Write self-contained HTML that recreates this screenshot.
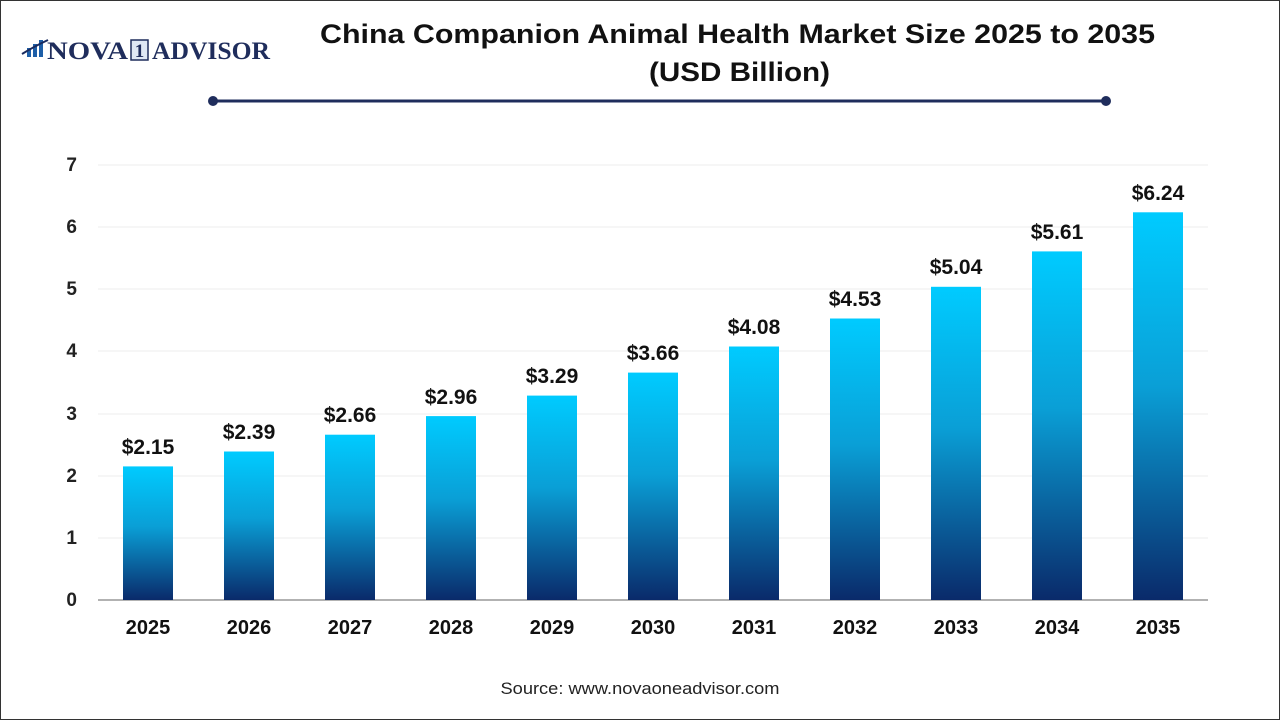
<!DOCTYPE html>
<html><head><meta charset="utf-8"><style>
body{margin:0;width:1280px;height:720px;background:#fff;overflow:hidden;font-family:"Liberation Sans",sans-serif;}
</style></head><body>
<svg width="1280" height="720" xmlns="http://www.w3.org/2000/svg" font-family="Liberation Sans, sans-serif">
<defs><linearGradient id="g" x1="0" y1="0" x2="0" y2="1"><stop offset="0" stop-color="#00cbff"/><stop offset="0.45" stop-color="#0a9fd6"/><stop offset="1" stop-color="#0a2a6a"/></linearGradient></defs>
<rect x="0.5" y="0.5" width="1279" height="719" fill="#fff" stroke="#333"/>
<g fill="#1e5fa8"><rect x="27" y="48" width="4" height="9"/><rect x="33" y="44" width="4" height="13"/><rect x="39" y="40" width="4" height="17"/></g>
<path d="M22 54 Q35 46 48 40" stroke="#1a2a5e" stroke-width="2" fill="none"/>
<text x="47" y="59" font-family="Liberation Serif, serif" font-weight="bold" font-size="25" fill="#1f2d5c" textLength="81" lengthAdjust="spacingAndGlyphs">NOVA</text>
<rect x="131" y="40" width="17" height="20" fill="#dfe8f4" stroke="#1f2d5c" stroke-width="1.5"/>
<text x="139.5" y="57" text-anchor="middle" font-family="Liberation Serif, serif" font-weight="bold" font-size="19" fill="#1f2d5c">1</text>
<text x="152" y="59" font-family="Liberation Serif, serif" font-weight="bold" font-size="25" fill="#1f2d5c" textLength="118" lengthAdjust="spacingAndGlyphs">ADVISOR</text>
<text x="320" y="43" font-weight="bold" font-size="27" fill="#111" textLength="835" lengthAdjust="spacingAndGlyphs">China Companion Animal Health Market Size 2025 to 2035</text>
<text x="649" y="81" font-weight="bold" font-size="27" fill="#111" textLength="181" lengthAdjust="spacingAndGlyphs">(USD Billion)</text>
<line x1="213" y1="101" x2="1106" y2="101" stroke="#1f2d5c" stroke-width="3"/>
<circle cx="213" cy="101" r="5" fill="#1f2d5c"/><circle cx="1106" cy="101" r="5" fill="#1f2d5c"/>
<g stroke="#ececec" stroke-width="1">
<line x1="98" y1="165" x2="1208" y2="165"/><line x1="98" y1="227" x2="1208" y2="227"/><line x1="98" y1="289" x2="1208" y2="289"/><line x1="98" y1="351" x2="1208" y2="351"/><line x1="98" y1="414" x2="1208" y2="414"/><line x1="98" y1="476" x2="1208" y2="476"/><line x1="98" y1="538" x2="1208" y2="538"/></g>
<line x1="98" y1="600" x2="1208" y2="600" stroke="#999" stroke-width="1.5"/>
<g font-size="19" font-weight="bold" fill="#222" text-anchor="end">
<text x="77" y="171">7</text><text x="77" y="233">6</text><text x="77" y="295">5</text><text x="77" y="357">4</text><text x="77" y="420">3</text><text x="77" y="482">2</text><text x="77" y="544">1</text><text x="77" y="606">0</text></g>
<g font-size="21" font-weight="bold" fill="#111" text-anchor="middle">
<rect x="123" y="466.4" width="50" height="133.6" fill="url(#g)"/><text x="148" y="454">$2.15</text>
<rect x="224" y="451.5" width="50" height="148.5" fill="url(#g)"/><text x="249" y="439">$2.39</text>
<rect x="325" y="434.7" width="50" height="165.3" fill="url(#g)"/><text x="350" y="422">$2.66</text>
<rect x="426" y="416.1" width="50" height="183.9" fill="url(#g)"/><text x="451" y="404">$2.96</text>
<rect x="527" y="395.6" width="50" height="204.4" fill="url(#g)"/><text x="552" y="383">$3.29</text>
<rect x="628" y="372.6" width="50" height="227.4" fill="url(#g)"/><text x="653" y="360">$3.66</text>
<rect x="729" y="346.5" width="50" height="253.5" fill="url(#g)"/><text x="754" y="334">$4.08</text>
<rect x="830" y="318.5" width="50" height="281.5" fill="url(#g)"/><text x="855" y="306">$4.53</text>
<rect x="931" y="286.8" width="50" height="313.2" fill="url(#g)"/><text x="956" y="274">$5.04</text>
<rect x="1032" y="251.4" width="50" height="348.6" fill="url(#g)"/><text x="1057" y="239">$5.61</text>
<rect x="1133" y="212.3" width="50" height="387.7" fill="url(#g)"/><text x="1158" y="200">$6.24</text>
</g>
<g font-size="20" font-weight="bold" fill="#111" text-anchor="middle">
<text x="148" y="634">2025</text><text x="249" y="634">2026</text><text x="350" y="634">2027</text><text x="451" y="634">2028</text><text x="552" y="634">2029</text><text x="653" y="634">2030</text><text x="754" y="634">2031</text><text x="855" y="634">2032</text><text x="956" y="634">2033</text><text x="1057" y="634">2034</text><text x="1158" y="634">2035</text>
</g>
<text x="640" y="694" text-anchor="middle" font-size="17" fill="#222" textLength="279" lengthAdjust="spacingAndGlyphs">Source: www.novaoneadvisor.com</text>
</svg>
</body></html>
